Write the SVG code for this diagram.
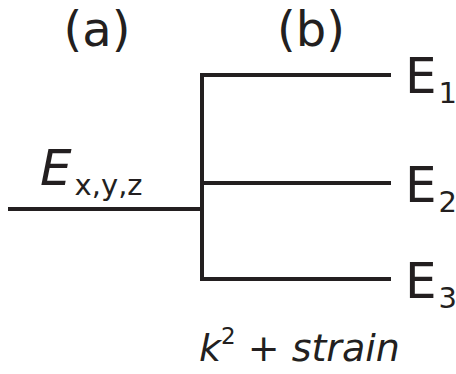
<svg xmlns="http://www.w3.org/2000/svg" width="456" height="374" viewBox="0 0 456 374">
<style>
text{font-family:"DejaVu Sans",sans-serif;fill:#231f20}
.ln{stroke:#231f20;stroke-width:4;fill:none}
.lab{font-size:48px}
.E{font-size:50px}
.s{font-size:29px}
</style>
<rect width="456" height="374" fill="#fff"/>
<g id="connectors">
<path class="ln" d="M8 209H202M202 75V279M200 75H391M202 183H391M200 279H391"/>
</g>
<g id="label-a"><text class="lab" x="97" y="46" text-anchor="middle">(a)</text></g>
<g id="label-b"><text class="lab" x="311" y="46" text-anchor="middle">(b)</text></g>
<g id="node-Exyz"><text x="40" y="185"><tspan class="E" font-style="italic">E</tspan><tspan class="s" dx="3" dy="10">x,y,z</tspan></text></g>
<g id="node-E1"><text x="405" y="93"><tspan class="E">E</tspan><tspan class="s" dx="2" dy="10">1</tspan></text></g>
<g id="node-E2"><text x="405" y="202"><tspan class="E">E</tspan><tspan class="s" dx="2" dy="10">2</tspan></text></g>
<g id="node-E3"><text x="405" y="298"><tspan class="E">E</tspan><tspan class="s" dx="2" dy="10">3</tspan></text></g>
<g id="label-strain"><text x="199" y="361" font-size="38" font-style="italic">k<tspan font-size="23" dy="-17" font-style="normal">2</tspan><tspan dy="17"> + strain</tspan></text></g>
</svg>
